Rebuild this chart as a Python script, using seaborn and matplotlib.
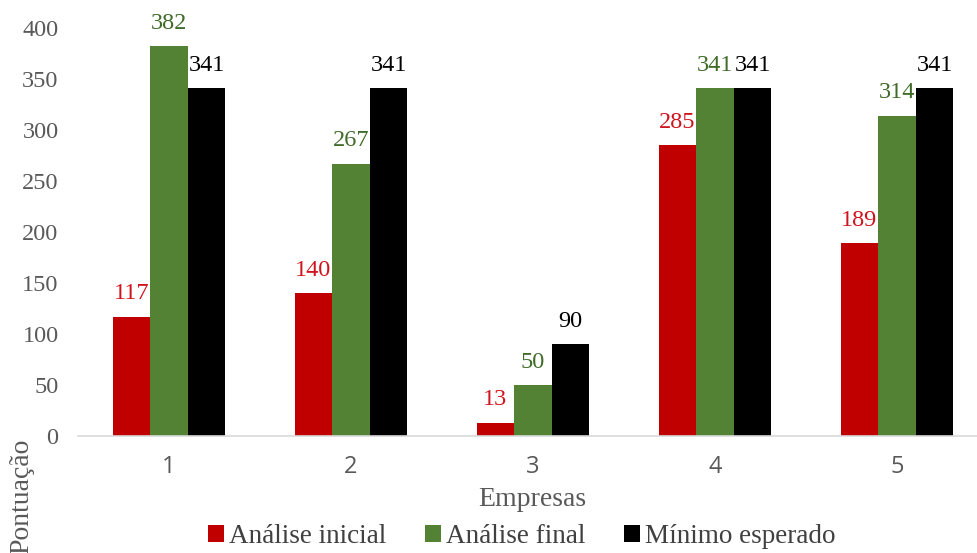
import matplotlib
matplotlib.use("Agg")
import matplotlib.pyplot as plt
import seaborn as sns
import pandas as pd

empresas = ["1", "2", "3", "4", "5"]
series = ["Análise inicial", "Análise final", "Mínimo esperado"]
analise_inicial = [117, 140, 13, 285, 189]
analise_final = [382, 267, 50, 341, 314]
minimo_esperado = [341, 341, 90, 341, 341]
y_ticks = [0, 50, 100, 150, 200, 250, 300, 350, 400]

colors = ["#C00000", "#548235", "#000000"]
label_colors = ["#D0141E", "#3F6B28", "#000000"]

df = pd.DataFrame({
    "Empresas": empresas * 3,
    "Pontuação": analise_inicial + analise_final + minimo_esperado,
    "Série": [s for s in series for _ in empresas],
})

sns.set_theme(style="white")
plt.rcParams["font.family"] = ["Liberation Serif", "DejaVu Serif"]

fig = plt.figure(figsize=(9.77, 5.53), dpi=100)
ax = fig.add_axes([78 / 977, 117 / 553, 910 / 977, 408 / 553])

sns.barplot(data=df, x="Empresas", y="Pontuação", hue="Série",
            hue_order=series, order=empresas, palette=colors,
            width=0.62, saturation=1, linewidth=0, ax=ax)

handles, labels = ax.get_legend_handles_labels()
ax.get_legend().remove()

for cont, col in zip(ax.containers, label_colors):
    ax.bar_label(cont, fmt="%d", padding=9, color=col, fontsize=17.5,
                 family=["Liberation Serif"])

ax.set_xlim(-0.5, 4.5)
ax.set_ylim(0, 400)
ax.set_yticks(y_ticks)
ax.set_yticklabels([str(t) for t in y_ticks], fontsize=17.5, color="#595959")
ax.set_xticks(range(len(empresas)))
ax.set_xticklabels(empresas, fontsize=17, color="#595959",
                   family=["Open Sans", "DejaVu Sans"])
ax.tick_params(axis="y", length=0, pad=14)
ax.tick_params(axis="x", length=0, pad=14)
ax.set_xlabel("")
ax.set_ylabel("")
for side in ["left", "right", "top"]:
    ax.spines[side].set_visible(False)
ax.spines["bottom"].set_color("#D9D9D9")
ax.spines["bottom"].set_linewidth(1.2)
ax.grid(False)

fig.text(532 / 977, (553 - 506) / 553, "Empresas", ha="center",
         va="baseline", fontsize=20, color="#595959")
fig.text(22 / 977, (553 - 496) / 553, "Pontuação", ha="center", va="center",
         rotation=90, fontsize=20, color="#595959")

fig.legend(handles, labels, loc="lower center", bbox_to_anchor=(0.534, 0.0),
           ncol=3, frameon=False, fontsize=19.5, handlelength=0.6,
           handleheight=0.6, handletextpad=0.2, columnspacing=1.4,
           labelcolor="#404040", borderaxespad=0.05, borderpad=0.1)

fig.savefig("out.png", dpi=100)
